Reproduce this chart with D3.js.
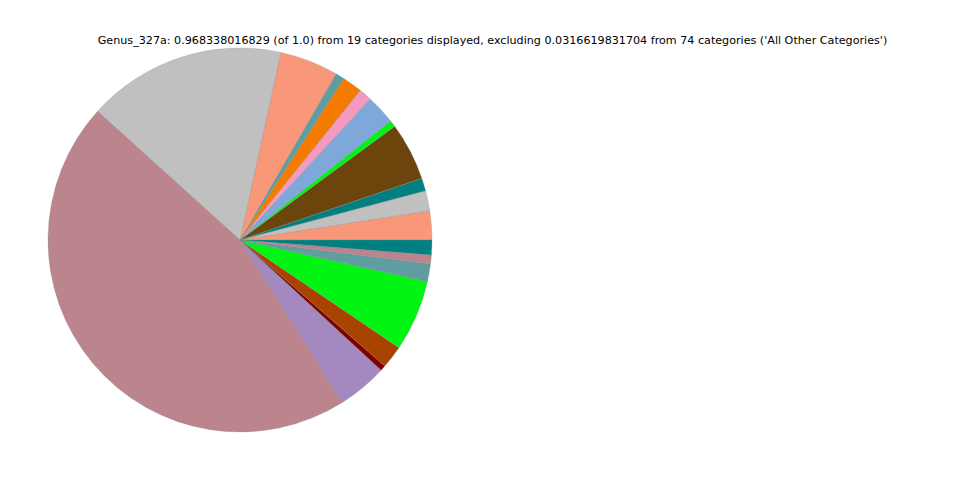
<!DOCTYPE html>
<html><head><meta charset="utf-8">
<script src="https://cdn.jsdelivr.net/npm/d3@7"></script>
<style>body{margin:0;background:#fff}svg{display:block}</style>
</head><body>
<svg id="c" width="960" height="480"></svg>
<script>
const titleText = "Genus_327a: 0.968338016829 (of 1.0) from 19 categories displayed, excluding 0.0316619831704 from 74 categories ('All Other Categories')";
const categories = ["c1","c2","c3","c4","c5","c6","c7","c8","c9","c10","c11","c12","c13","c14","c15","c16","c17","c18","c19"];
const values = [0.02359,0.01649,0.01036,0.04721,0.00538,0.02421,0.01049,0.01641,0.00716,0.04772,0.16193,0.44194,0.04062,0.00457,0.01856,0.05797,0.01439,0.00726,0.01210];
const colors = ["#F99879","#C0C0C0","#008080","#6B450C","#00F514","#7FA8DA","#F49AC1","#F47A00","#5F9EA0","#F99879","#C0C0C0","#BC848C","#A488C0","#800000","#A84300","#00F514","#5F9EA0","#BC848C","#008080"];

const svg = d3.select("#c");
svg.append("text").attr("x", 492.5).attr("y", 44)
  .attr("text-anchor","middle").attr("font-family","DejaVu Sans").attr("font-size","11.15px")
  .attr("fill","#000").text(titleText);

const data = categories.map((c,i)=>({cat:c, value:values[i], color:colors[i]}));
const pie = d3.pie().sort(null).value(d=>d.value)
  .startAngle(Math.PI/2).endAngle(Math.PI/2 - 2*Math.PI);
const r = d3.scaleLinear().domain([0,1]).range([0,192]);
const arc = d3.arc().innerRadius(0).outerRadius(r(1));
const g = svg.append("g").attr("transform","translate(240,240)");
g.selectAll("path").data(pie(data)).join("path")
  .attr("d", arc).attr("fill", d=>d.data.color)
  .attr("stroke","#888").attr("stroke-opacity",0.5).attr("stroke-width",0.6);
</script>
</body></html>
